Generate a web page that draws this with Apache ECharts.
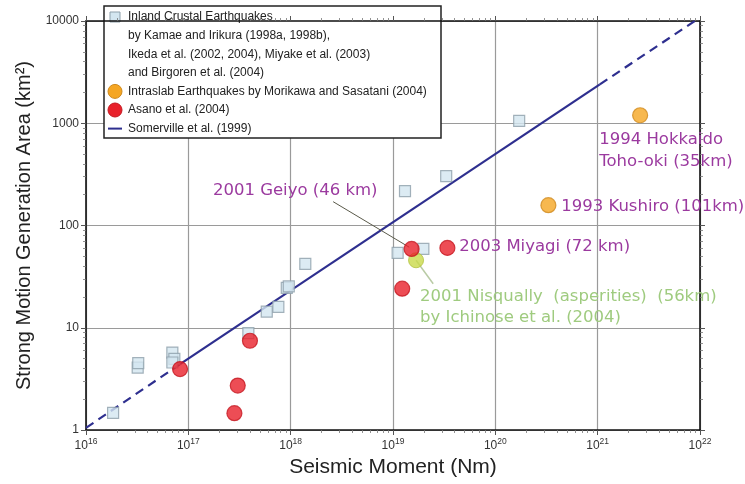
<!DOCTYPE html>
<html><head><meta charset="utf-8">
<script src="https://cdn.jsdelivr.net/npm/echarts@6/dist/echarts.min.js"></script>
<style>html,body{margin:0;padding:0;background:#fff}#c{width:745px;height:484px}</style>
</head><body><div id="c"></div>
<script>
// ---- data ----
const xTickExponents = [16, 17, 18, 19, 20, 21, 22];
const yTickLabels = ['1', '10', '100', '1000', '10000'];

const inlandCrustal = [[1.84e16,1.47],[3.2e16,4.08],[3.24e16,4.5],[6.98e16,5.72],[7.3e16,4.97],[6.98e16,4.57],
  [3.86e17,8.87],[5.84e17,14.4],[7.58e17,16.0],[9.16e17,24.5],[9.58e17,25.4],[1.39e18,42.1],
  [1.11e19,54],[1.98e19,59],[1.31e19,217],[3.31e19,304],[1.71e20,1053]];
const intraslab = [[2.6e21,1197],[3.3e20,158]];
const asano = [[1.52e19,59],[3.4e19,60.4],[1.23e19,24.1],[8.3e16,3.94],[4.0e17,7.46],[3.04e17,2.72],[2.82e17,1.46]];
const nisqually = [[1.68e19,45.7]];
const somervilleLow = [[1e16,1.05],[8.3e16,4.4]];
const somervilleMid = [[8.3e16,4.4],[1.05e21,2400]];
const somervilleHigh = [[1.05e21,2400],[8.9e21,10000]];
const geiyoLeader = [[2.6e18,171],[1.44e19,61.3]];
const nisquallyLeader = [[1.68e19,45.7],[2.47e19,26.9]];

const annotations = [
  {text:'1994 Hokkaido', at:[1.035e21,692], color:'#9b3a9f'},
  {text:'Toho-oki (35km)', at:[1.035e21,422], color:'#9b3a9f'},
  {text:'1993 Kushiro (101km)', at:[4.4e20,154], color:'#9b3a9f'},
  {text:'2003 Miyagi (72 km)', at:[4.43e19,62.4], color:'#9b3a9f'},
  {text:'2001 Geiyo (46 km)', at:[1.74e17,221], color:'#9b3a9f'},
  {text:'2001 Nisqually  (asperities)  (56km)', at:[1.84e19,20.2], color:'#9fcb7f'},
  {text:'by Ichinose et al. (2004)', at:[1.84e19,12.6], color:'#9fcb7f'}
];

const legendRows = [
  {icon:'square', text:'Inland Crustal Earthquakes'},
  {icon:null, text:'by Kamae and Irikura (1998a, 1998b),'},
  {icon:null, text:'Ikeda et al. (2002, 2004), Miyake et al. (2003)'},
  {icon:null, text:'and Birgoren et al. (2004)'},
  {icon:'orange', text:'Intraslab Earthquakes by Morikawa and Sasatani (2004)'},
  {icon:'red', text:'Asano et al. (2004)'},
  {icon:'line', text:'Somerville et al. (1999)'}
];

// ---- styles ----
const SQ = {color:'#d3e6f0', borderColor:'#8d9faa', borderWidth:1.2};
const OR = {color:'#f5a623', borderColor:'#cf8a1e', borderWidth:1.2};
const RD = {color:'#e8212b', borderColor:'#c41820', borderWidth:1.2};
const YG = {color:'#c9d94a', borderColor:'#b2c23f', borderWidth:1};
const LINEC = '#2e2f8f';
const FONT = 'Liberation Sans, Arial, sans-serif';
const ANNFONT = 'DejaVu Sans, sans-serif';

const chart = echarts.init(document.getElementById('c'), null, {renderer:'canvas'});

function baseLog(extra){
  return Object.assign({
    type:'log', logBase:10,
    axisLine:{show:true, lineStyle:{color:'#111', width:1.6}},
    axisTick:{show:true, inside:false, length:5, lineStyle:{color:'#555', width:1}},
    minorTick:{show:true, splitNumber:9, length:3, lineStyle:{color:'#777', width:0.8}},
    splitLine:{show:false},
    axisLabel:{show:false}
  }, extra);
}

const option = {
  animation:false,
  backgroundColor:'#fff',
  grid:{left:86, right:45, top:21, bottom:54, show:false},
  xAxis:[
    baseLog({min:1e16, max:1e22, position:'bottom',
      splitLine:{show:true, lineStyle:{color:'#9a9a9a', width:1.2}},
      axisLabel:{show:true, margin:7,
        formatter:function(v){ const e = Math.round(Math.log10(v)); return xTickExponents.indexOf(e) >= 0 ? '{b|10}{s|'+e+'}' : ''; },
        rich:{
          b:{fontSize:12, color:'#333', fontFamily:FONT, verticalAlign:'bottom'},
          s:{fontSize:8.5, color:'#333', fontFamily:FONT, verticalAlign:'bottom', padding:[0,0,6,0]}
        }},
      name:'Seismic Moment (Nm)', nameLocation:'middle', nameGap:22,
      nameTextStyle:{fontSize:21, color:'#222', fontFamily:FONT, verticalAlign:'top'}
    }),
    baseLog({min:1e16, max:1e22, position:'top'})
  ],
  yAxis:[
    baseLog({min:1, max:10000, position:'left',
      splitLine:{show:true, lineStyle:{color:'#9a9a9a', width:1.2}},
      axisLabel:{show:true, margin:7, fontSize:12, color:'#333', fontFamily:FONT,
        formatter:function(v){ const e = Math.round(Math.log10(v)); return yTickLabels[e] || ''; }},
      name:'Strong Motion Generation Area (km\u00B2)', nameLocation:'middle', nameGap:52,
      nameTextStyle:{fontSize:20, color:'#222', fontFamily:FONT}
    }),
    baseLog({min:1, max:10000, position:'right'})
  ],
  series:[
    {type:'line', data:somervilleLow, symbol:'none', lineStyle:{color:LINEC, width:2.2, type:[9,6]}, z:3},
    {type:'line', data:somervilleMid, symbol:'none', lineStyle:{color:LINEC, width:2.2}, z:3},
    {type:'line', data:somervilleHigh, symbol:'none', lineStyle:{color:LINEC, width:2.2, type:[9,6]}, z:3},
    {type:'line', data:geiyoLeader, symbol:'none', lineStyle:{color:'#5a5a4a', width:1}, z:4},
    {type:'line', data:nisquallyLeader, symbol:'none', lineStyle:{color:'#b9cba5', width:1.5}, z:4},
    {type:'scatter', data:inlandCrustal, symbol:'rect', symbolSize:11, itemStyle:SQ, z:5},
    {type:'scatter', data:nisqually, symbol:'circle', symbolSize:15, itemStyle:YG, z:6},
    {type:'scatter', data:intraslab, symbol:'circle', symbolSize:15, itemStyle:OR, z:6},
    {type:'scatter', data:asano, symbol:'circle', symbolSize:15, itemStyle:RD, z:7}
  ]
};
chart.setOption(option);

// ---- annotations and legend ----
const gfx = [];
annotations.forEach(a => {
  const p = chart.convertToPixel({xAxisIndex:0, yAxisIndex:0}, a.at);
  gfx.push({type:'text', x:p[0], y:p[1], z:20,
    style:{text:a.text, fill:a.color, font:'16.5px '+ANNFONT, verticalAlign:'middle', align:'left'}});
});

const LX = 104, LY = 6, LW = 337, LH = 132, ROW0 = 17, ROWH = 18.6;
const legendChildren = [
  {type:'rect', shape:{x:0, y:0, width:LW, height:LH}, style:{fill:'#fff', stroke:'#222', lineWidth:1.5}}
];
legendRows.forEach((r, i) => {
  const cy = ROW0 + i*ROWH - LY;
  if (r.icon === 'square') legendChildren.push({type:'rect', shape:{x:6, y:cy-5, width:10, height:10}, style:{fill:SQ.color, stroke:SQ.borderColor, lineWidth:1}});
  if (r.icon === 'orange') legendChildren.push({type:'circle', shape:{cx:11, cy:cy, r:7}, style:{fill:OR.color, stroke:OR.borderColor, lineWidth:1}});
  if (r.icon === 'red') legendChildren.push({type:'circle', shape:{cx:11, cy:cy, r:7}, style:{fill:RD.color, stroke:RD.borderColor, lineWidth:1}});
  if (r.icon === 'line') legendChildren.push({type:'line', shape:{x1:4, y1:cy, x2:18, y2:cy}, style:{stroke:LINEC, lineWidth:2}});
  legendChildren.push({type:'text', x:24, y:cy, style:{text:r.text, fill:'#222', font:'12px '+FONT, verticalAlign:'middle', align:'left'}});
});
gfx.push({type:'group', x:LX, y:LY, z:30, children:legendChildren});

chart.setOption({graphic:gfx});
</script>
</body></html>
